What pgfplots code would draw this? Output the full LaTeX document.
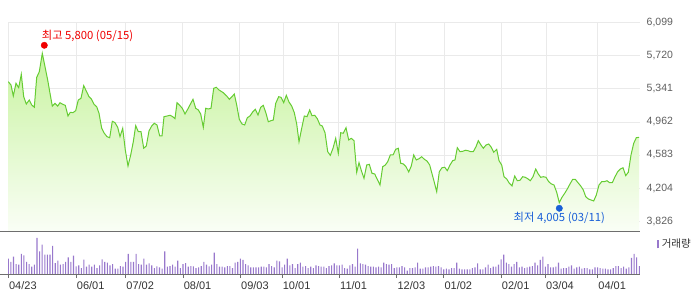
\documentclass[border=0pt]{standalone}
\usepackage{fontspec}
\setmainfont{Liberation Sans}
\newfontfamily\kr{Noto Sans CJK KR}
\usepackage{pgfplots}
\pgfplotsset{compat=1.18}
\usepackage{pgfplotstable}
\definecolor{linegreen}{RGB}{102,204,51}
\definecolor{filltop}{RGB}{200,243,160}
\definecolor{fillbot}{RGB}{250,254,246}
\definecolor{gridc}{RGB}{234,234,234}
\definecolor{volc}{RGB}{152,120,204}
\definecolor{hired}{RGB}{240,0,0}
\definecolor{loblue}{RGB}{25,95,215}
\definecolor{sepc}{RGB}{110,110,110}
\definecolor{lblc}{RGB}{95,95,95}
\definecolor{xlbl}{RGB}{51,51,51}

\pgfplotstableread{
x y
8.3 5423
11 5385
13.3 5259
16 5405
18.7 5354
21.3 5508
23.7 5251
26.3 5167
29.3 5213
31.7 5156
34.3 5130
36.7 5473
39.3 5537
42.3 5748
45 5595
47.7 5442
50 5290
52.3 5144
55 5175
57.7 5144
60 5182
62.7 5164
65.3 5152
68 5030
70.3 5072
73 5068
75.7 5091
78.3 5213
81 5233
83.7 5377
86.3 5316
89 5251
91.3 5225
94 5164
96.7 5136
99 5061
101.7 4889
104.3 4832
107 4793
109.7 4781
112.3 4969
115 4953
117.7 4900
120 4793
122.7 4889
125.3 4640
128 4457
130.7 4583
133.3 4735
135.7 4919
138.3 4850
141 4850
143.7 4660
146.3 4686
149 4858
151.7 4915
154.3 4946
157 4927
159.7 4801
162 4801
164 5022
167.3 5030
170 5038
172.7 5022
175 4999
177 5182
179.7 5152
182.3 5118
185 5053
187.7 5107
190.3 5164
193 5221
195.7 5118
198.3 5099
200.7 5053
203.3 4900
205.7 5118
208.3 5110
211 5118
213.7 5347
216.3 5359
219 5328
223.3 5297
226.7 5259
229.3 5221
232 5251
234.3 5282
236.7 5156
239.3 4992
242 4938
244.7 4927
247.3 5010
250 5030
252.7 5076
255.3 5107
258 5041
260.7 5130
263.3 5152
266 5061
268.3 4964
271 4976
273.3 4984
275.7 5175
278.7 5251
281 5244
283.7 5182
286.3 5267
289 5190
291.7 5144
294.3 5068
296.7 4938
299 4735
301.7 4889
304.3 5030
307 5022
309.7 5099
312 5033
314.7 5038
317.3 4999
320 4927
322.3 4915
325 4838
327.7 4621
330.3 4579
333 4660
335.7 4774
338.3 4602
340.7 4838
343.3 4832
346 4896
348.7 4755
351.3 4774
354 4747
356.7 4385
359 4495
361.7 4391
364 4316
366.7 4468
369.3 4476
372 4373
374.7 4365
377.3 4304
380 4239
382.7 4449
385.3 4468
387.7 4506
390.3 4583
393 4583
395.7 4648
398.3 4660
400.7 4488
403.3 4480
406 4449
408.7 4388
411.3 4457
413.7 4583
416.3 4526
419 4540
421.7 4563
424.3 4534
427 4514
429.7 4468
431 4411
433.7 4296
436.7 4162
439.3 4391
442 4437
444.7 4442
447.3 4403
450 4468
452.7 4518
455 4526
457.3 4666
460 4621
462.7 4625
465.3 4637
468 4632
470.7 4621
473.3 4621
476 4678
478.3 4747
481 4697
483.3 4660
486 4697
488.7 4709
491.3 4671
493.7 4614
496.7 4648
499 4518
501.7 4468
504 4334
506.7 4308
509.3 4259
512 4228
514.7 4342
517.3 4288
520 4293
522.7 4334
525.3 4327
527.7 4311
530.3 4288
533 4334
535.7 4422
538.3 4365
540.7 4327
543.3 4334
546 4327
548.7 4277
551.3 4251
554 4239
556.7 4155
559.3 4036
562 4098
564.7 4144
567.3 4193
570 4251
572.7 4304
575.3 4304
578 4265
580.7 4228
583.3 4182
585.7 4105
588.3 4079
591 4067
593.7 4056
596.3 4124
599 4239
601.7 4277
604.3 4277
607 4288
609.7 4265
612.3 4265
615 4334
617.7 4391
620.3 4422
623 4437
625.7 4346
628.3 4385
631 4583
633.7 4717
636.3 4781
639 4786
}\price

\pgfplotstableread[row sep=\\]{
i v\\
0 46\\ 1 36\\ 2 52\\ 3 30\\ 4 28\\ 5 60\\ 6 56\\ 7 36\\ 8 30\\ 9 22\\
10 28\\ 11 108\\ 12 68\\ 13 88\\ 14 58\\ 15 58\\ 16 58\\ 17 84\\ 18 33\\ 19 40\\
20 28\\ 21 30\\ 22 36\\ 23 50\\ 24 36\\ 25 55\\ 26 23\\ 27 26\\ 28 18\\ 29 43\\
30 22\\ 31 28\\ 32 22\\ 33 28\\ 34 18\\ 35 26\\ 36 44\\ 37 36\\ 38 34\\ 39 26\\
40 30\\ 41 16\\ 42 16\\ 43 24\\ 44 22\\ 45 36\\ 46 60\\ 47 36\\ 48 36\\ 49 60\\
50 30\\ 51 28\\ 52 46\\ 53 28\\ 54 32\\ 55 26\\ 56 18\\ 57 23\\ 58 20\\ 59 16\\
60 68\\ 61 22\\ 62 24\\ 63 28\\ 64 22\\ 65 40\\ 66 18\\ 67 30\\ 68 33\\ 69 22\\
70 24\\ 71 23\\ 72 18\\ 73 20\\ 74 24\\ 75 36\\ 76 28\\ 77 23\\ 78 28\\ 79 64\\
80 30\\ 81 22\\ 82 22\\ 83 20\\ 84 24\\ 85 24\\ 86 18\\ 87 34\\ 88 36\\
89 46\\ 90 42\\ 91 30\\ 92 26\\ 93 20\\ 94 20\\ 95 20\\ 96 20\\ 97 22\\ 98 22\\
99 20\\ 100 30\\ 101 24\\ 102 20\\ 103 40\\ 104 38\\ 105 20\\ 106 28\\ 107 46\\ 108 26\\
109 30\\ 110 18\\ 111 30\\ 112 34\\ 113 22\\ 114 24\\ 115 18\\ 116 22\\ 117 18\\ 118 26\\
119 24\\ 120 22\\ 121 22\\ 122 18\\ 123 24\\ 124 26\\ 125 32\\ 126 26\\ 127 26\\ 128 28\\
129 18\\ 130 16\\ 131 26\\ 132 30\\ 133 22\\ 134 76\\ 135 32\\ 136 30\\ 137 28\\ 138 24\\
139 22\\ 140 22\\ 141 20\\ 142 22\\ 143 20\\ 144 34\\ 145 30\\ 146 28\\ 147 30\\ 148 18\\
149 20\\ 150 20\\ 151 24\\ 152 20\\ 153 10\\ 154 18\\ 155 18\\ 156 20\\ 157 34\\ 158 16\\
159 16\\ 160 20\\ 161 20\\ 162 22\\ 163 24\\ 164 22\\ 165 24\\ 166 20\\ 167 14\\ 168 16\\
169 14\\ 170 18\\ 171 18\\
172 34\\ 173 16\\ 174 14\\ 175 14\\ 176 14\\ 177 14\\ 178 18\\ 179 20\\ 180 32\\ 181 14\\
182 14\\ 183 20\\ 184 28\\ 185 18\\ 186 22\\ 187 22\\ 188 28\\ 189 44\\ 190 58\\ 191 34\\
192 30\\ 193 22\\ 194 30\\ 195 36\\ 196 20\\ 197 22\\ 198 18\\ 199 20\\ 200 22\\ 201 24\\
202 34\\ 203 26\\ 204 42\\ 205 52\\ 206 22\\ 207 30\\ 208 20\\ 209 20\\ 210 22\\ 211 34\\
212 16\\ 213 18\\ 214 18\\ 215 22\\ 216 26\\ 217 16\\ 218 20\\ 219 22\\ 220 16\\ 221 18\\
222 18\\ 223 14\\ 224 14\\ 225 20\\ 226 20\\ 227 18\\ 228 16\\ 229 16\\ 230 14\\ 231 14\\
232 18\\ 233 24\\ 234 24\\ 235 18\\ 236 22\\ 237 16\\ 238 20\\ 239 48\\ 240 60\\ 241 50\\
242 24\\
}\volume

\begin{document}
\begin{tikzpicture}
\useasboundingbox (0bp,0bp) rectangle (691bp,296bp);
\begin{axis}[
  at={(8bp,64.5bp)}, anchor=south west,
  width=632bp, height=208.8bp, scale only axis,
  xmin=8, xmax=640, ymin=3706, ymax=6099,
  axis line style={draw=none},
  tick style={draw=none},
  xtick={8.3,76.3,125.3,182.3,239.3,283.3,338.3,395.7,444.3,501.7,546.3,597.3},
  xticklabels={},
  xticklabel style={inner sep=0pt},
  ytick={3826,4204,4583,4962,5341,5720,6099},
  yticklabel pos=right,
  grid=major,
  major grid style={gridc, line width=0.8bp},
  /pgf/number format/1000 sep={,},
  /pgf/number format/assume math mode=true,
  yticklabel style={anchor=west, inner sep=0pt, xshift=6.5bp, text=lblc, font=\fontsize{10.5bp}{12bp}\selectfont},
]
\addplot[draw=none, top color=filltop, bottom color=fillbot] table[x=x,y=y]{\price} -- (axis cs:639,3706) -- (axis cs:8.3,3706) -- cycle;
\addplot[linegreen, line width=1bp, mark=none] table[x=x,y=y]{\price};
\addplot[only marks, mark=*, mark size=3.2bp, mark options={draw=hired, fill=hired}] coordinates {(44.3,5840)};
\addplot[only marks, mark=*, mark size=3.2bp, mark options={draw=loblue, fill=loblue}] coordinates {(559.3,3972)};
\node[anchor=base west, inner sep=0pt, text=hired, font=\kr\fontsize{11.3bp}{12bp}\selectfont, xshift=-2.6bp, yshift=5.3bp] at (axis cs:44.3,5840) {최고 5,800 (05/15)};
\node[anchor=base, inner sep=0pt, text=loblue, font=\kr\fontsize{11.3bp}{12bp}\selectfont, yshift=-13.4bp] at (axis cs:559.3,3972) {최저 4,005 (03/11)};
\end{axis}
\begin{axis}[
  at={(8bp,22bp)}, anchor=south west,
  width=632bp, height=42.5bp, scale only axis,
  xmin=-0.115, xmax=242.27, ymin=0, ymax=127.5,
  axis line style={draw=none},
  ytick=\empty,
  xtick={0,26,45,67,89,105,127,149,167,189,206,226},
  xticklabels={04/23,06/01,07/02,08/01,09/03,10/01,11/01,12/03,01/02,02/01,03/04,04/01},
  xtick pos=bottom,
  tick align=outside,
  major tick length=4bp,
  xtick style={sepc, line width=0.8bp},
  xticklabel style={anchor=north west, inner sep=0pt, xshift=0.6bp, yshift=-3.7bp, text=xlbl, font=\fontsize{11bp}{13bp}\selectfont},
]
\addplot[ybar, bar width=1.1bp, fill=volc, draw=none] table[x=i,y=v]{\volume};
\end{axis}
\draw[sepc, line width=0.8bp] (0bp,64.5bp) -- (640bp,64.5bp);
\draw[sepc, line width=0.8bp] (0bp,22bp) -- (640bp,22bp);
\node[anchor=east, inner sep=0pt, text=xlbl, font=\fontsize{10.5bp}{12bp}\selectfont] at (691bp,52bp) {{\color{volc}\rule[-0.5bp]{2bp}{8.5bp}}\hspace{2.5bp}{\kr 거래량}};
\end{tikzpicture}
\end{document}
